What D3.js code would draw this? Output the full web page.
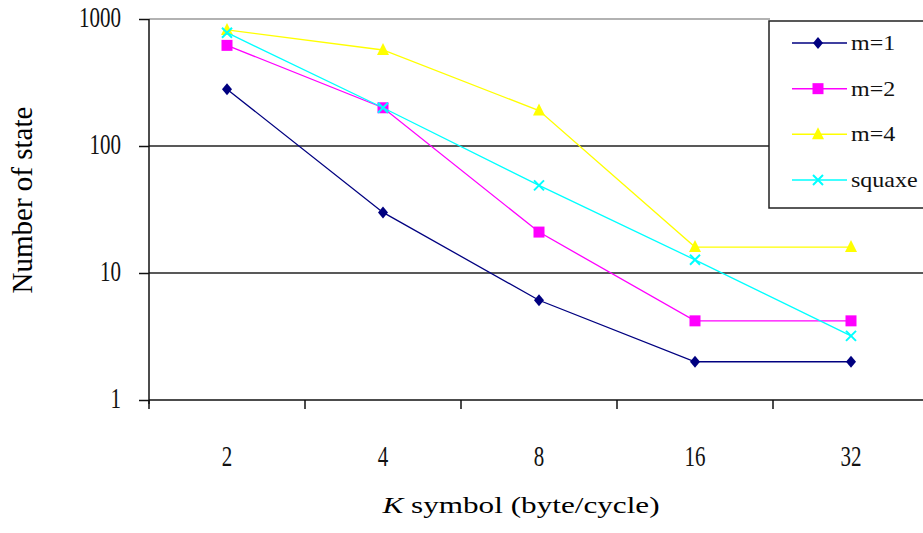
<!DOCTYPE html>
<html lang="en">
<head>
<meta charset="utf-8">
<title>Number of state</title>
<script src="https://cdn.jsdelivr.net/npm/d3@7"></script>
<style>
  body { margin: 0; background: #fff; }
</style>
</head>
<body>
<div id="chart"></div>
<script>
// categories and series values
const kSymbols = ["2", "4", "8", "16", "32"];
const m1 = [280, 30, 6.1, 2, 2];
const m2 = [620, 200, 21, 4.2, 4.2];
const m4 = [820, 570, 190, 16, 16];
const square = [780, 200, 49, 12.7, 3.2];
const yTicks = [1, 10, 100, 1000];
const legendNames = ["m=1", "m=2", "m=4", "squaxe"];

const series = [
  { name: legendNames[0], values: m1, color: "#000080", shape: "diamond" },
  { name: legendNames[1], values: m2, color: "#ff00ff", shape: "square" },
  { name: legendNames[2], values: m4, color: "#ffff00", shape: "triangle" },
  { name: legendNames[3], values: square, color: "#00ffff", shape: "cross" }
];

const SERIF = "'Liberation Serif', 'DejaVu Serif', 'Times New Roman', Times, serif";

const W = 923, H = 533;
const svg = d3.select("#chart").append("svg")
  .attr("width", W).attr("height", H)
  .style("font-family", SERIF);

const x = d3.scaleBand().domain(kSymbols).range([149, 929]);
const y = d3.scaleLog().domain([1, 1000]).range([400, 19]);

// top border of plot area
svg.append("line")
  .attr("x1", 149).attr("x2", 770)
  .attr("y1", y(1000)).attr("y2", y(1000))
  .attr("stroke", "#999").attr("stroke-width", 1.5);

// gridlines
svg.append("g")
  .selectAll("line")
  .data([10, 100])
  .enter().append("line")
  .attr("x1", 149).attr("x2", W)
  .attr("y1", d => y(d)).attr("y2", d => y(d))
  .attr("stroke", "#222").attr("stroke-width", 1.5);

// y axis
const yAxis = svg.append("g")
  .attr("transform", "translate(149,0)")
  .call(d3.axisLeft(y).tickValues(yTicks).tickFormat(d3.format("d")).tickSize(10));
yAxis.attr("font-family", null);
yAxis.select(".domain").attr("stroke", "#111").attr("stroke-width", 1.5).attr("d", "M0,19V404");
yAxis.selectAll(".tick line").attr("stroke", "#111").attr("stroke-width", 1.5);
yAxis.selectAll(".tick text")
  .attr("x", null).attr("dy", null)
  .attr("transform", "translate(-28,7) scale(1,1.45)")
  .style("font-family", SERIF)
  .style("font-size", "21px")
  .attr("fill", "#111");

// x axis
const xAxis = svg.append("g")
  .attr("transform", "translate(0,400)");
xAxis.append("line")
  .attr("x1", 149).attr("x2", W).attr("y1", 0).attr("y2", 0)
  .attr("stroke", "#111").attr("stroke-width", 1.5);
xAxis.selectAll(".xtick")
  .data(kSymbols)
  .enter().append("line")
  .attr("x1", d => x(d)).attr("x2", d => x(d))
  .attr("y1", 0).attr("y2", 9)
  .attr("stroke", "#111").attr("stroke-width", 1.5);
xAxis.selectAll(".xlab")
  .data(kSymbols)
  .enter().append("text")
  .attr("transform", d => `translate(${x(d) + x.bandwidth() / 2},66) scale(1,1.45)`)
  .attr("text-anchor", "middle")
  .style("font-family", SERIF)
  .style("font-size", "21px")
  .attr("fill", "#111")
  .text(d => d);

// axis titles
svg.append("text")
  .attr("transform", "translate(521,513) scale(1.3,1)")
  .attr("text-anchor", "middle")
  .style("font-family", SERIF)
  .style("font-size", "24px")
  .html('<tspan font-style="italic">K</tspan> symbol (byte/cycle)');

svg.append("text")
  .attr("transform", "translate(32,200) rotate(-90)")
  .attr("text-anchor", "middle")
  .style("font-family", SERIF)
  .style("font-size", "29px")
  .text("Number of state");

// marker shapes
function drawMarker(g, shape, color, cx, cy) {
  if (shape === "diamond") {
    g.append("path").attr("d", `M${cx},${cy - 6}L${cx + 5},${cy}L${cx},${cy + 6}L${cx - 5},${cy}Z`)
      .attr("fill", color);
  } else if (shape === "square") {
    g.append("rect").attr("x", cx - 5.5).attr("y", cy - 5.5).attr("width", 11).attr("height", 11)
      .attr("fill", color);
  } else if (shape === "triangle") {
    g.append("path").attr("d", `M${cx},${cy - 7}L${cx + 6},${cy + 5}L${cx - 6},${cy + 5}Z`)
      .attr("fill", color);
  } else {
    g.append("path").attr("d", `M${cx - 5},${cy - 5}L${cx + 5},${cy + 5}M${cx + 5},${cy - 5}L${cx - 5},${cy + 5}`)
      .attr("stroke", color).attr("stroke-width", 2);
  }
}

const cx = d => x(d) + x.bandwidth() / 2;
const line = d3.line().x((v, i) => cx(kSymbols[i])).y(v => y(v));

series.forEach(s => {
  const g = svg.append("g");
  g.append("path")
    .attr("d", line(s.values))
    .attr("fill", "none")
    .attr("stroke", s.color)
    .attr("stroke-width", 1.3);
  s.values.forEach((v, i) => drawMarker(g, s.shape, s.color, cx(kSymbols[i]), y(v)));
});

// legend
const legend = svg.append("g");
legend.append("rect")
  .attr("x", 769).attr("y", 21).attr("width", 170).attr("height", 187)
  .attr("fill", "#fff").attr("stroke", "#222").attr("stroke-width", 1.5);
const legendScale = d3.scalePoint().domain(legendNames).range([43, 180]);
series.forEach(s => {
  const ly = legendScale(s.name);
  legend.append("line")
    .attr("x1", 792).attr("x2", 847).attr("y1", ly).attr("y2", ly)
    .attr("stroke", s.color).attr("stroke-width", 1.5);
  drawMarker(legend, s.shape, s.color, 818, ly);
  legend.append("text")
    .attr("transform", `translate(851,${ly + 7}) scale(1.2,1.1)`)
    .style("font-family", SERIF)
    .style("font-size", "20px")
    .attr("fill", "#111")
    .text(s.name);
});
</script>
</body>
</html>
